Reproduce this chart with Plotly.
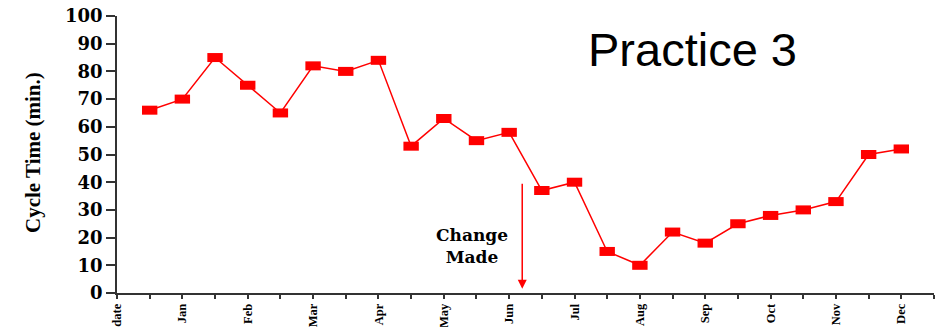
import plotly.graph_objects as go

# Cycle time per period (positions 1..24 on the axis)
periods = list(range(1, 25))
cycle_time = [66, 70, 85, 75, 65, 82, 80, 84, 53, 63, 55, 58,
              37, 40, 15, 10, 22, 18, 25, 28, 30, 33, 50, 52]

# Axis ticks: every position gets a tick, only even ones are labelled
tick_positions = list(range(0, 26))
month_labels = ["date", "Jan", "Feb", "Mar", "Apr", "May", "Jun",
                "Jul", "Aug", "Sep", "Oct", "Nov", "Dec"]
tick_text = [month_labels[i // 2] if i % 2 == 0 and i // 2 < len(month_labels) else ""
             for i in tick_positions]

y_ticks = list(range(0, 101, 10))

# Where the process change happened
change_x = 12.4
change_arrow_top = 40
change_arrow_tip = 1.5

RED = "#ff0000"
AXIS = "#333333"

fig = go.Figure()

fig.add_trace(go.Scatter(
    x=periods, y=cycle_time,
    mode="lines+markers",
    line=dict(color=RED, width=1.5),
    # wide rectangular markers drawn as thick horizontal bars
    marker=dict(symbol="line-ew", size=11,
                line=dict(color=RED, width=9)),
    showlegend=False,
    hoverinfo="x+y",
))

# Arrow marking the change
fig.add_annotation(
    x=change_x, y=change_arrow_tip, ax=change_x, ay=change_arrow_top,
    xref="x", yref="y", axref="x", ayref="y",
    text="", showarrow=True,
    arrowhead=2, arrowsize=1.2, arrowwidth=1.5, arrowcolor=RED,
)

fig.add_annotation(
    x=10.85, y=16.8, xref="x", yref="y",
    text="Change<br>Made", showarrow=False,
    font=dict(family="DejaVu Serif", size=17, color="black", weight="bold"),
    align="center", xanchor="center", yanchor="middle",
)

# Chart label in the upper right
fig.add_annotation(
    x=(692 - 117) / 817, y=(293 - 50) / 277, xref="paper", yref="paper",
    text="Practice 3", showarrow=False,
    font=dict(family="Liberation Sans", size=47, color="black"),
    xanchor="center", yanchor="middle",
)

# Vertical axis title
fig.add_annotation(
    x=(33 - 117) / 817, y=(293 - 153) / 277, xref="paper", yref="paper",
    text="Cycle Time (min.)", showarrow=False, textangle=-90,
    font=dict(family="Liberation Serif", size=21, color="black", weight="bold"),
    xanchor="center", yanchor="middle",
)

fig.update_layout(
    width=942, height=327,
    margin=dict(l=117, r=8, t=16, b=34),
    paper_bgcolor="white", plot_bgcolor="white",
    xaxis=dict(
        range=[0, 25], tickmode="array",
        tickvals=tick_positions, ticktext=tick_text,
        tickangle=-90, ticks="outside", ticklen=4, tickwidth=1.5,
        tickcolor=AXIS, showline=True, linecolor=AXIS, linewidth=1.5,
        showgrid=False, zeroline=False, automargin=False,
        tickfont=dict(family="Liberation Serif", size=12.5, color="black", weight="bold"),
    ),
    yaxis=dict(
        range=[0, 100], tickmode="array", tickvals=y_ticks,
        ticks="outside", ticklen=9, tickwidth=1.5, tickcolor=AXIS,
        showline=True, linecolor=AXIS, linewidth=1.5,
        showgrid=False, zeroline=False, automargin=False,
        tickfont=dict(family="DejaVu Serif", size=18, color="black", weight="bold"),
    ),
)

fig.write_html("out.html")
